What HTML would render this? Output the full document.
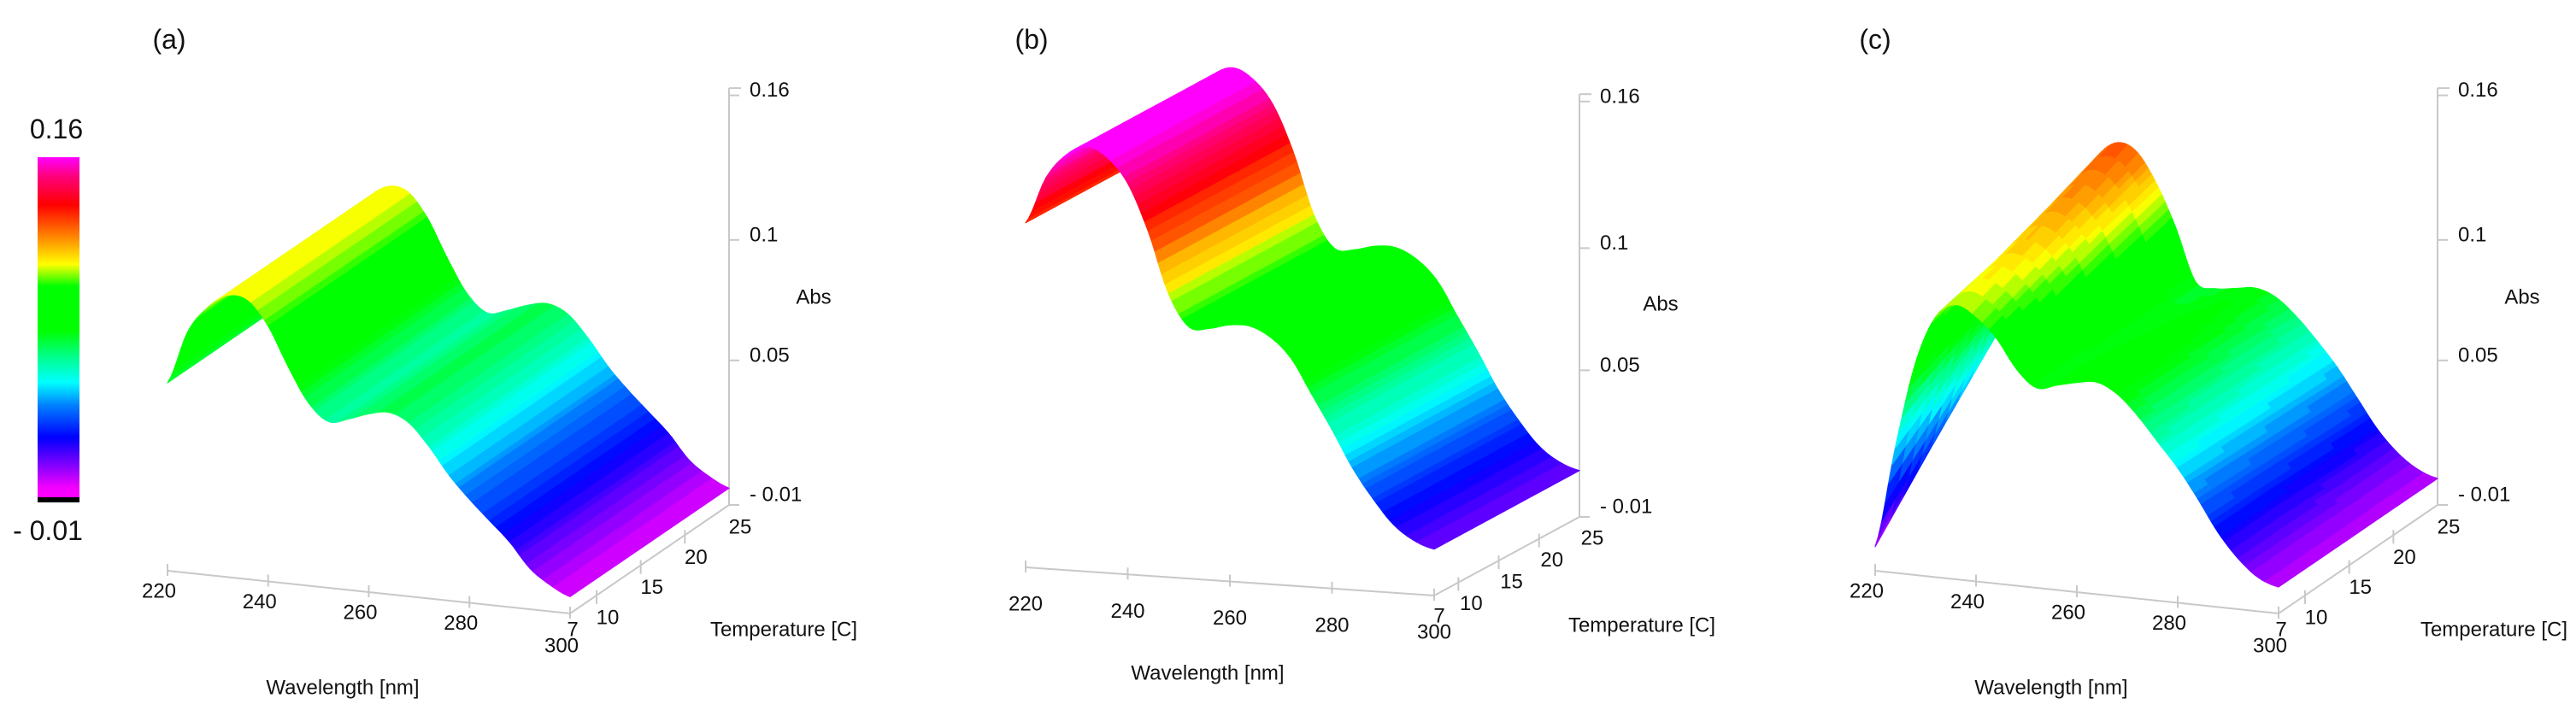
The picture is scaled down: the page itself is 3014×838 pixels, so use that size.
<!DOCTYPE html>
<html><head><meta charset="utf-8">
<style>
html,body{margin:0;padding:0;background:#fff;}
svg{display:block;font-family:"Liberation Sans Narrow","Liberation Sans",sans-serif;}
.t{font-size:24px;fill:#111;}
.pl{font-size:32px;fill:#111;font-family:"Liberation Sans",sans-serif;}
.cb{font-size:32px;fill:#111;font-family:"Liberation Sans",sans-serif;}
</style></head>
<body>
<svg id="fig" width="3014" height="838" viewBox="0 0 3014 838" xmlns="http://www.w3.org/2000/svg">
<defs>
<linearGradient id="cmap" x1="0" y1="1" x2="0" y2="0">
<stop offset="0" stop-color="#ff00ff"/><stop offset="0.03" stop-color="#f000ff"/>
<stop offset="0.095" stop-color="#8000ff"/><stop offset="0.176" stop-color="#0000ff"/>
<stop offset="0.27" stop-color="#0080ff"/><stop offset="0.338" stop-color="#00ffff"/>
<stop offset="0.42" stop-color="#00ff80"/><stop offset="0.49" stop-color="#00ff00"/>
<stop offset="0.62" stop-color="#00ff00"/><stop offset="0.685" stop-color="#ffff00"/>
<stop offset="0.77" stop-color="#ff8000"/><stop offset="0.86" stop-color="#ff0000"/>
<stop offset="0.946" stop-color="#ff0080"/><stop offset="1" stop-color="#ff00ff"/>
</linearGradient>
</defs>
<g>
<rect x="44" y="184" width="49" height="398" fill="url(#cmap)"/>
<rect x="44" y="582" width="49" height="6" fill="#000"/>
<text class="cb" x="66" y="151" text-anchor="middle" dominant-baseline="central">0.16</text>
<text class="cb" x="56" y="621" text-anchor="middle" dominant-baseline="central">- 0.01</text>
</g>
<g id="panels"></g>
</svg>
<script>
const wl = [220,224,228,232,236,240,244,248,252,256,260,264,268,272,276,280,284,288,292,296,300];
const absA = [0.068,0.090,0.101,0.107,0.106,0.096,0.080,0.066,0.059,0.061,0.064,0.0655,0.062,0.053,0.042,0.033,0.025,0.017,0.007,0.001,-0.003];
const absB = [0.131,0.150,0.160,0.164,0.160,0.150,0.131,0.106,0.093,0.093,0.095,0.095,0.091,0.083,0.069,0.055,0.040,0.028,0.018,0.012,0.009];
const absC7  = [0.000,0.042,0.078,0.098,0.104,0.100,0.092,0.080,0.073,0.075,0.077,0.078,0.074,0.066,0.056,0.046,0.034,0.021,0.011,0.004,0.001];
const absC13 = [0.024,0.056,0.085,0.103,0.110,0.108,0.099,0.084,0.073,0.074,0.076,0.077,0.073,0.065,0.055,0.045,0.033,0.021,0.011,0.004,0.001];
const absC19 = [0.047,0.071,0.093,0.110,0.118,0.116,0.106,0.089,0.073,0.072,0.074,0.075,0.071,0.064,0.054,0.044,0.032,0.020,0.010,0.004,0.001];
const absC25 = [0.070,0.085,0.100,0.118,0.126,0.124,0.112,0.094,0.072,0.070,0.071,0.072,0.069,0.062,0.053,0.043,0.031,0.019,0.010,0.004,0.001];
const tempsAB = [7,25];
const tempsC = [7,13,19,25];
const wTicks = [220,240,260,280,300];
const tTicks = [7,10,15,20,25];
const zTicks = [-0.01,0.05,0.1,0.16];
const zTickLabels = ["- 0.01","0.05","0.1","0.16"];
const panelLetters = ["(a)","(b)","(c)"];

const NS="http://www.w3.org/2000/svg";
const stops=[[0,[255,0,255]],[0.03,[240,0,255]],[0.095,[128,0,255]],[0.176,[0,0,255]],[0.27,[0,128,255]],[0.338,[0,255,255]],[0.42,[0,255,128]],[0.49,[0,255,0]],[0.62,[0,255,0]],[0.685,[255,255,0]],[0.77,[255,128,0]],[0.86,[255,0,0]],[0.946,[255,0,128]],[1,[255,0,255]]];
function cmap(v){
  let t=(v+0.01)/0.17; t=Math.max(0,Math.min(1,t)); t=Math.round(t*60)/60;
  for(let i=1;i<stops.length;i++){ if(t<=stops[i][0]){const a=stops[i-1],b=stops[i];const f=(t-a[0])/(b[0]-a[0]||1);
    const c=a[1].map((x,k)=>Math.round(x+(b[1][k]-x)*f));return `rgb(${c[0]},${c[1]},${c[2]})`;}}
  return "rgb(255,0,255)";
}
function mk(tag,attrs,parent){const e=document.createElementNS(NS,tag);for(const k in attrs)e.setAttribute(k,attrs[k]);parent.appendChild(e);return e;}
function cr(p0,p1,p2,p3,t){const t2=t*t,t3=t2*t;return 0.5*((2*p1)+(-p0+p2)*t+(2*p0-5*p1+4*p2-p3)*t2+(-p0+3*p1-3*p2+p3)*t3);}

const panels=[
 {ox:196,oy:668,wx:471,wy:50,tx:186,ty:-127,zs:2820,temps:tempsAB,rows:[absA,absA],lx:198,
  wOff:[-10,24],tOff:[13,26],t7Off:[3,19],wTitle:[401,805],tTitle:[917,737],abs:[952,348]},
 {ox:1200,oy:664,wx:478,wy:33,tx:170,ty:-92,zs:2860,temps:tempsAB,rows:[absB,absB],lx:1207,
  wOff:[0,43],tOff:[15,25],t7Off:[6,24],wTitle:[1413,788],tTitle:[1921,732],abs:[1943,356]},
 {ox:2194,oy:668,wx:472,wy:50,tx:186,ty:-127,zs:2820,temps:tempsC,rows:[absC7,absC13,absC19,absC25],lx:2194,
  wOff:[-10,24],tOff:[13,26],t7Off:[3,19],wTitle:[2400,805],tTitle:[2918,737],abs:[2951,348]}
];
const root=document.getElementById('panels');
panels.forEach((P,pi)=>{
  const wS=w=>(w-220)/80, tS=T=>(T-7)/18;
  const proj=(w,T,z)=>[P.ox+wS(w)*P.wx+tS(T)*P.tx, P.oy+wS(w)*P.wy+tS(T)*P.ty-(z+0.01)*P.zs];
  const g=mk('g',{},root);
  
  
  const ax=mk('g',{stroke:'#c8c8c8','stroke-width':2,fill:'none'},g);
  
  
  const a0=proj(220,7,-0.01),a1=proj(300,7,-0.01),a2=proj(300,25,-0.01),a3=proj(300,25,0.163);
  const wl1=mk('line',{x1:a0[0],y1:a0[1],x2:a1[0],y2:a1[1]},ax);
  
  
  const tl1=mk('line',{x1:a1[0],y1:a1[1],x2:a2[0],y2:a2[1]},ax);
  
  
  const zl1=mk('line',{x1:a2[0],y1:a2[1],x2:a3[0],y2:a3[1]},ax);
  
  
  const zt0=mk('line',{x1:a3[0],y1:a3[1],x2:a3[0]+14,y2:a3[1]},ax);
  
  
  const sub=6, tsub=(P.rows.length>2)?4:1;
  const quads=[];
  const ws=[],vals=[];
  for(let r=0;r<P.rows.length;r++){
    const row=P.rows[r], out=[];
    for(let i=0;i<wl.length-1;i++){
      const p0=row[Math.max(0,i-1)],p1=row[i],p2=row[i+1],p3=row[Math.min(wl.length-1,i+2)];
      for(let s=0;s<sub;s++){out.push(cr(p0,p1,p2,p3,s/sub)); if(r===0)ws.push(wl[i]+(wl[i+1]-wl[i])*s/sub);}
    }
    out.push(row[wl.length-1]); if(r===0)ws.push(wl[wl.length-1]);
    vals.push(out);
  }
  const Ts=[],grid=[];
  for(let r=0;r<P.rows.length-1;r++){
    for(let s=0;s<tsub;s++){const f=s/tsub;Ts.push(P.temps[r]+(P.temps[r+1]-P.temps[r])*f);grid.push(vals[r].map((v,k)=>v+(vals[r+1][k]-v)*f));}
  }
  Ts.push(P.temps[P.temps.length-1]);grid.push(vals[vals.length-1]);
  for(let j=0;j<Ts.length-1;j++)for(let i=0;i<ws.length-1;i++){
    const z00=grid[j][i],z10=grid[j][i+1],z01=grid[j+1][i],z11=grid[j+1][i+1];
    const pts=[proj(ws[i],Ts[j],z00),proj(ws[i+1],Ts[j],z10),proj(ws[i+1],Ts[j+1],z11),proj(ws[i],Ts[j+1],z01)];
    const wm=(ws[i]+ws[i+1])/2,Tm=(Ts[j]+Ts[j+1])/2;
    quads.push({pts,z:(z00+z10+z01+z11)/4,near:wS(wm)*P.wy+tS(Tm)*P.ty});
  }
  quads.sort((a,b)=>a.near-b.near);
  const sg=mk('g',{},g);
  
  
  quads.forEach(q=>{
    const c=cmap(q.z);
    const p=mk('polygon',{points:q.pts.map(p=>p[0].toFixed(1)+','+p[1].toFixed(1)).join(' '),fill:c,stroke:c,'stroke-width':1.2,'stroke-linejoin':'round'},sg);
    
    
  });
  wTicks.forEach((w,k)=>{
    const b=proj(w,7,-0.01);
    const tk=mk('line',{x1:b[0],y1:b[1]-8,x2:b[0],y2:b[1]+6,stroke:'#c8c8c8','stroke-width':2},g);
    
    
    const t=mk('text',{class:'t',x:b[0]+P.wOff[0],y:b[1]+P.wOff[1]+(k===wTicks.length-1&&pi!==1?14:0),'text-anchor':'middle','dominant-baseline':'central'},g);
    t.textContent=w;
    
    
  });
  tTicks.forEach((T,k)=>{
    const b=proj(300,T,-0.01);
    if(k>0&&k<tTicks.length-1){
      const tk=mk('line',{x1:b[0],y1:b[1]-6,x2:b[0],y2:b[1]+10,stroke:'#c8c8c8','stroke-width':2},g);
      
      
    }
    const off=k===0?P.t7Off:P.tOff;
    const t=mk('text',{class:'t',x:b[0]+off[0],y:b[1]+off[1],'text-anchor':'middle','dominant-baseline':'central'},g);
    t.textContent=T;
    
    
  });
  zTicks.forEach((z,k)=>{
    const b=proj(300,25,z);
    const tk=mk('line',{x1:b[0],y1:b[1],x2:b[0]+12,y2:b[1],stroke:'#c8c8c8','stroke-width':2},g);
    
    
    const t=mk('text',{class:'t',x:b[0]+24,y:b[1]-(k===0?12:6),'dominant-baseline':'central'},g);
    t.textContent=zTickLabels[k];
    
    
  });
  const lt=mk('text',{class:'pl',x:P.lx,y:46,'text-anchor':'middle','dominant-baseline':'central'},g);
  lt.textContent=panelLetters[pi];
  
  
  const wt=mk('text',{class:'t',x:P.wTitle[0],y:P.wTitle[1],'text-anchor':'middle','dominant-baseline':'central'},g);
  wt.textContent='Wavelength [nm]';
  
  
  const tt=mk('text',{class:'t',x:P.tTitle[0],y:P.tTitle[1],'text-anchor':'middle','dominant-baseline':'central'},g);
  tt.textContent='Temperature [C]';
  
  
  const at=mk('text',{class:'t',x:P.abs[0],y:P.abs[1],'text-anchor':'middle','dominant-baseline':'central'},g);
  at.textContent='Abs';
  
  
});
</script>
</body></html>
